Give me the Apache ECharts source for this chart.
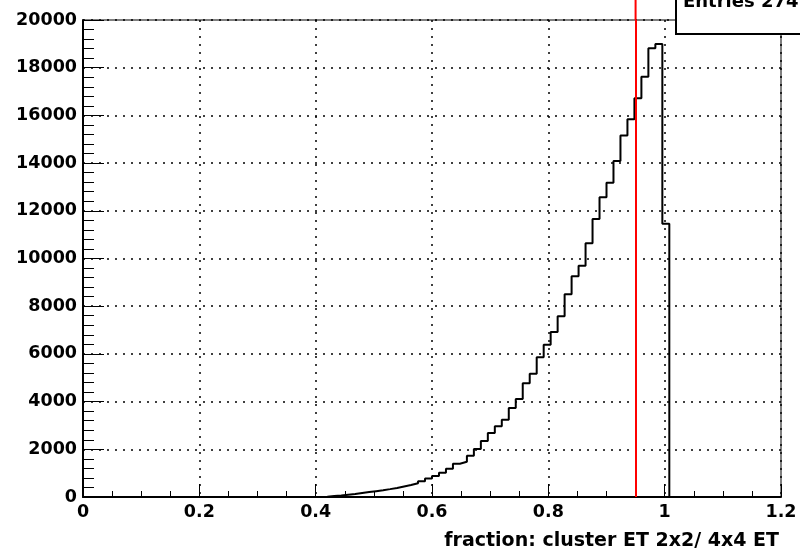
<!DOCTYPE html>
<html><head><meta charset="utf-8">
<script src="https://cdn.jsdelivr.net/npm/echarts@6/dist/echarts.min.js"></script>
<style>html,body{margin:0;padding:0;background:#fff}#c{width:800px;height:556px}</style>
</head><body><div id="c"></div>
<script>
// Histogram binning (100 bins from 0 to 1.2)
const binLow = 0;
const binWidth = 0.012;
const nBins = 100;
// first non-empty bin index and counts
const firstBin = 33;
const counts = [5, 15, 40, 65, 95, 125, 165, 205, 245, 285,
  330, 380, 440, 500, 575, 660, 775, 885, 1020, 1187,
  1397, 1480, 1732, 2013, 2348, 2684, 2964, 3241, 3732, 4109,
  4766, 5170, 5857, 6386, 6920, 7575, 8499, 9254, 9699, 10638,
  11656, 12566, 13179, 14088, 15157, 15837, 16718, 17623, 18814, 18994,
  11460];
const cutValue = 0.95;
const xTitle = 'fraction: cluster ET 2x2/ 4x4 ET';
const statsText = 'Entries 274';

const data = [];
for (let i = 0; i < nBins; i++) {
  const k = i - firstBin;
  const v = (k >= 0 && k < counts.length) ? counts[k] : 0;
  data.push([+(binLow + i * binWidth).toFixed(4), v]);
}
data.push([+(binLow + nBins * binWidth).toFixed(4), 0]);

const FONT = '"DejaVu Sans", sans-serif';
const chart = echarts.init(document.getElementById('c'), null, {renderer: 'canvas'});
const dotted = {color: '#000', width: 1.5, type: [2, 6]};
const YMAX = 20000;
chart.setOption({
  animation: false,
  backgroundColor: '#fff',
  grid: {left: 83, right: 19, top: 20, bottom: 59, show: true, borderColor: '#000', borderWidth: 1, containLabel: false},
  xAxis: {
    type: 'value', min: 0, max: 1.2, interval: 0.2,
    axisLine: {show: true, onZero: false, lineStyle: {color: '#000', width: 2}},
    axisTick: {show: true, inside: true, length: 13, lineStyle: {color: '#000', width: 1}},
    minorTick: {show: true, splitNumber: 4, length: 6, lineStyle: {color: '#000', width: 1}},
    splitLine: {show: true, lineStyle: dotted},
    axisLabel: {color: '#000', fontFamily: FONT, fontWeight: 'bold', fontSize: 17.5, margin: 6, showMinLabel: true, showMaxLabel: true,
      formatter: v => String(+v.toFixed(2))}
  },
  yAxis: {
    type: 'value', min: 0, max: YMAX, interval: 2000,
    axisLine: {show: true, onZero: false, lineStyle: {color: '#000', width: 2}},
    axisTick: {show: true, inside: true, length: 21, lineStyle: {color: '#000', width: 1}},
    minorTick: {show: true, splitNumber: 5, length: 11, lineStyle: {color: '#000', width: 1}},
    splitLine: {show: true, lineStyle: dotted},
    axisLabel: {color: '#000', fontFamily: FONT, fontWeight: 'bold', fontSize: 17.5, margin: 6, showMinLabel: true, showMaxLabel: true,
      formatter: v => String(Math.round(v))}
  },
  series: [{
    type: 'line', step: 'end', data: data, showSymbol: false, symbol: 'none',
    lineStyle: {color: '#000', width: 2}, z: 3,
    markLine: {
      silent: true, symbol: ['none', 'none'], label: {show: false},
      lineStyle: {color: '#ff0000', width: 2, type: 'solid'},
      data: [{xAxis: cutValue}]
    }
  }],
  graphic: [
    {type: 'text', right: 21, top: 532, style: {text: xTitle, fill: '#000', font: 'bold 19px ' + FONT}}
  ]
});
// extend the cut line above the frame to the canvas top, then the stats box on top
const cutTop = chart.convertToPixel({gridIndex: 0}, [cutValue, YMAX]);
chart.setOption({
  graphic: [
    {type: 'text', right: 21, top: 532, style: {text: xTitle, fill: '#000', font: 'bold 19px ' + FONT}},
    {type: 'line', shape: {x1: cutTop[0], y1: 0, x2: cutTop[0], y2: cutTop[1]}, style: {stroke: '#ff0000', lineWidth: 2}, z: 50},
    {type: 'rect', shape: {x: 676, y: -10, width: 140, height: 44}, style: {fill: '#fff', stroke: '#000', lineWidth: 2}, z: 100},
    {type: 'text', x: 683, y: -7, style: {text: statsText, fill: '#000', font: 'bold 18px ' + FONT}, z: 101}
  ]
}, {replaceMerge: ['graphic']});
</script></body></html>
